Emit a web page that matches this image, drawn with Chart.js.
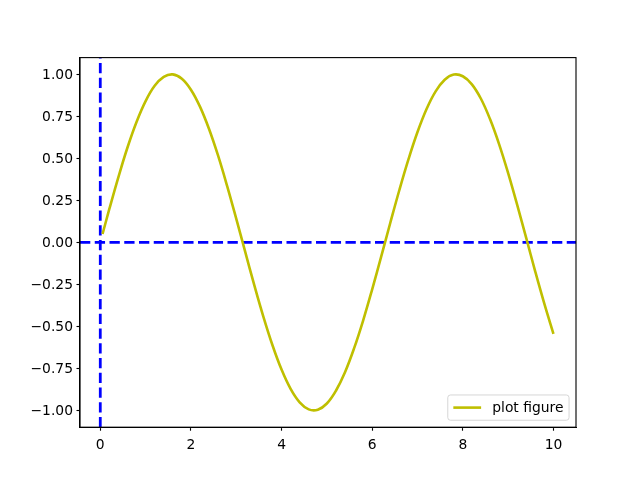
<!DOCTYPE html>
<html>
<head>
<meta charset="utf-8">
<script src="https://cdn.jsdelivr.net/npm/chart.js@4.4.1/dist/chart.umd.min.js"></script>
<style>
html,body{margin:0;padding:0;background:#fff;}
#wrap{width:640px;height:480px;position:relative;}
</style>
</head>
<body>
<div id="wrap"><canvas id="c" width="640" height="480"></canvas></div>
<script>
// Data
const xValues = [0.05,0.2,0.4,0.6,0.8,1.0,1.2,1.4,1.6,1.8,2.0,2.2,2.4,2.6,2.8,3.0,3.2,3.4,3.6,3.8,4.0,4.2,4.4,4.6,4.8,5.0,5.2,5.4,5.6,5.8,6.0,6.2,6.4,6.6,6.8,7.0,7.2,7.4,7.6,7.8,8.0,8.2,8.4,8.6,8.8,9.0,9.2,9.4,9.6,9.8,10.0];
const yValues = [0.050,0.199,0.389,0.565,0.717,0.841,0.932,0.985,1.000,0.974,0.909,0.808,0.675,0.516,0.335,0.141,-0.058,-0.256,-0.443,-0.612,-0.757,-0.872,-0.952,-0.994,-0.996,-0.959,-0.883,-0.773,-0.631,-0.465,-0.279,-0.083,0.117,0.312,0.494,0.657,0.794,0.899,0.968,0.999,0.989,0.941,0.855,0.734,0.585,0.412,0.223,0.025,-0.175,-0.366,-0.544];
const seriesLabel = 'plot figure';
const hLineY = 0;
const vLineX = 0;
const xRange = [-0.4475, 10.4975];
const yRange = [-1.1, 1.1];
const xTicks = [0, 2, 4, 6, 8, 10];
const yTicks = [-1.0, -0.75, -0.5, -0.25, 0.0, 0.25, 0.5, 0.75, 1.0];

const FONT = 'DejaVu Sans';
const FS = 13.89;

const sinePoints = xValues.map((x, i) => ({x: x, y: yValues[i]}));
const hLinePoints = [{x: xRange[0], y: hLineY}, {x: xRange[1], y: hLineY}];
const vLinePoints = [{x: vLineX, y: yRange[0]}, {x: vLineX, y: yRange[1]}];

function fmtY(v){
  const s = Math.abs(v).toFixed(2);
  return (v < 0 ? '\u2212' : '') + s;
}

const framePlugin = {
  id: 'frame',
  afterDatasetsDraw(chart){
    const ctx = chart.ctx, a = chart.chartArea;
    ctx.save();
    ctx.strokeStyle = '#000';
    ctx.lineWidth = 1.11;
    ctx.strokeRect(a.left, a.top, a.right - a.left, a.bottom - a.top);
    ctx.restore();
  }
};

const legendPlugin = {
  id: 'mplLegend',
  afterDraw(chart){
    const ctx = chart.ctx, a = chart.chartArea;
    const ds = chart.data.datasets[0];
    ctx.save();
    ctx.font = FS + 'px "' + FONT + '"';
    const tw = ctx.measureText(ds.label).width;
    const pad = 0.5 * FS;     // borderaxespad
    const bp = 0.4 * FS;      // borderpad
    const hl = 2.0 * FS;      // handlelength
    const htp = 0.8 * FS;     // handletextpad
    const w = bp + hl + htp + tw + bp;
    const h = 25.3;
    const right = a.right - pad, bottom = a.bottom - pad;
    const left = right - w, top = bottom - h;
    const r = 0.2 * FS;
    ctx.beginPath();
    ctx.moveTo(left + r, top);
    ctx.lineTo(right - r, top);
    ctx.quadraticCurveTo(right, top, right, top + r);
    ctx.lineTo(right, bottom - r);
    ctx.quadraticCurveTo(right, bottom, right - r, bottom);
    ctx.lineTo(left + r, bottom);
    ctx.quadraticCurveTo(left, bottom, left, bottom - r);
    ctx.lineTo(left, top + r);
    ctx.quadraticCurveTo(left, top, left + r, top);
    ctx.closePath();
    ctx.fillStyle = 'rgba(255,255,255,0.8)';
    ctx.fill();
    ctx.strokeStyle = 'rgba(204,204,204,0.8)';
    ctx.lineWidth = 1;
    ctx.stroke();
    const cy = (top + bottom) / 2;
    ctx.beginPath();
    ctx.moveTo(left + bp, cy);
    ctx.lineTo(left + bp + hl, cy);
    ctx.strokeStyle = ds.borderColor;
    ctx.lineWidth = ds.borderWidth;
    ctx.stroke();
    ctx.fillStyle = '#000';
    ctx.textBaseline = 'middle';
    ctx.textAlign = 'left';
    ctx.fillText(ds.label, left + bp + hl + htp, cy + 1);
    ctx.restore();
  }
};

new Chart(document.getElementById('c'), {
  type: 'line',
  data: {
    datasets: [
      {
        label: seriesLabel,
        data: sinePoints,
        borderColor: '#bfbf00',
        borderWidth: 2.6,
        pointRadius: 0,
        fill: false,
        tension: 0.4,
        order: 1
      },
      {
        label: 'hline',
        data: hLinePoints,
        borderColor: '#0000ff',
        borderWidth: 2.78,
        borderDash: [10.3, 4.45],
        pointRadius: 0,
        fill: false,
        order: 2
      },
      {
        label: 'vline',
        data: vLinePoints,
        borderColor: '#0000ff',
        borderWidth: 2.78,
        borderDash: [10.3, 4.45],
        pointRadius: 0,
        fill: false,
        order: 3
      }
    ]
  },
  options: {
    responsive: false,
    animation: false,
    devicePixelRatio: 1,
    layout: { padding: { left: 0, top: 57.6, right: 64, bottom: 0 } },
    plugins: { legend: { display: false }, tooltip: { enabled: false } },
    scales: {
      x: {
        type: 'linear',
        min: xRange[0],
        max: xRange[1],
        afterFit(s){ s.height = 52.8; },
        afterBuildTicks(s){ s.ticks = xTicks.map(v => ({value: v})); },
        grid: { drawOnChartArea: false, drawTicks: true, tickLength: 3.5, tickWidth: 1.11, tickColor: '#000' },
        border: { display: true, color: '#000', width: 1.11 },
        ticks: {
          padding: 6,
          maxRotation: 0,
          autoSkip: false,
          color: '#000',
          font: { family: FONT, size: FS },
          callback: (v) => String(v)
        }
      },
      y: {
        type: 'linear',
        min: yRange[0],
        max: yRange[1],
        afterFit(s){ s.width = 80; },
        afterBuildTicks(s){ s.ticks = yTicks.map(v => ({value: v})); },
        grid: { drawOnChartArea: false, drawTicks: true, tickLength: 3.5, tickWidth: 1.11, tickColor: '#000' },
        border: { display: true, color: '#000', width: 1.11 },
        ticks: {
          padding: 3.5,
          labelOffset: 1,
          autoSkip: false,
          color: '#000',
          font: { family: FONT, size: FS },
          callback: (v) => fmtY(v)
        }
      }
    }
  },
  plugins: [framePlugin, legendPlugin]
});
</script>
</body>
</html>
